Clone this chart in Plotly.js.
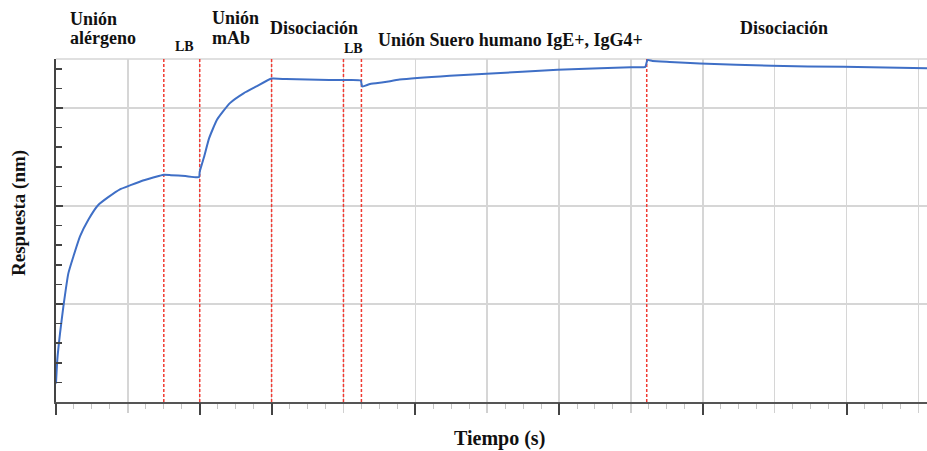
<!DOCTYPE html>
<html>
<head>
<meta charset="utf-8">
<script src="https://cdn.plot.ly/plotly-3.0.1.min.js"></script>
<style>html,body{margin:0;padding:0;background:#fff;}#chart{width:927px;height:451px;}</style>
</head>
<body>
<div id="chart"></div>
<script>
// Sensorgram (BLI) – response vs time (axis units: one gridline step = 1)
const time = [0, 0.018, 0.056, 0.102, 0.171, 0.24, 0.334, 0.45, 0.588, 0.727, 0.89, 1.03, 1.21, 1.45, 1.5,
  1.6, 1.8, 1.99,
  2.0, 2.06, 2.13, 2.24, 2.42, 2.61, 2.79, 3.0,
  3.2, 3.5, 3.8, 4.0, 4.24,
  4.26, 4.37, 4.58, 4.78, 5.48, 5.99, 6.98, 7.57, 8.0, 8.2,
  8.23, 8.3, 8.54, 8.96, 9.96, 10.96, 12.12];
const response = [0.19, 0.43, 0.70, 0.97, 1.31, 1.48, 1.69, 1.86, 2.01, 2.09, 2.17, 2.21, 2.26, 2.31, 2.32,
  2.315, 2.305, 2.295,
  2.35, 2.50, 2.69, 2.88, 3.05, 3.15, 3.22, 3.30,
  3.295, 3.29, 3.285, 3.285, 3.28,
  3.22, 3.245, 3.265, 3.29, 3.33, 3.35, 3.39, 3.405, 3.416, 3.42,
  3.49, 3.48, 3.47, 3.455, 3.43, 3.42, 3.405];

// Step boundaries (red dashed lines)
const stepTimes = [1.5, 2.0, 3.0, 4.0, 4.25, 8.22];
// Gridlines and ticks
const gridTimes = [0,1,2,3,4,5,6,7,8,9,10,11,12];
const majorTimeTicks = [0, 2, 3, 5, 7, 9, 11];
const gridResp = [0, 1, 2, 3];

const xRange = [0, 12.12];
const yRange = [0, 3.5];

// Phase labels: [text, left px, centre px, anchor]
const phaseLabels = [
  ["Unión", 68, 19, "left"],
  ["alérgeno", 68, 38, "left"],
  ["LB", 184, 47, "center"],
  ["Unión", 210, 18, "left"],
  ["mAb", 210, 38, "left"],
  ["Disociación", 268, 28, "left"],
  ["LB", 353.5, 48, "center"],
  ["Unión Suero humano IgE+, IgG4+", 376, 40, "left"],
  ["Disociación", 738, 28, "left"]
];

const W = 927, H = 451, L = 56, R = 0, T = 59, B = 49;
const pw = W - L - R, ph = H - T - B;
const px2x = p => (p - L) / pw;
const py2y = p => (H - B - p) / ph;

const serif = "Liberation Serif, Times New Roman, serif";

// red dashed step lines built from stepTimes
const lx = [], ly = [];
stepTimes.forEach(t => { lx.push(t, t, null); ly.push(yRange[0], yRange[1], null); });

const traces = [
  {x: lx, y: ly, xaxis: 'x', yaxis: 'y', mode: 'lines', hoverinfo: 'skip',
   line: {color: '#f03a32', width: 1.5, dash: '3px,2px'}, showlegend: false},
  {x: time, y: response, xaxis: 'x2', yaxis: 'y', mode: 'lines',
   line: {color: '#3f6fc6', width: 2, shape: 'spline', smoothing: 0.45}, showlegend: false}
];

const annotations = phaseLabels.map(([t, xp, yp, anc]) => ({
  text: t, xref: 'paper', yref: 'paper', x: px2x(xp), y: py2y(yp),
  xanchor: anc, yanchor: 'middle', showarrow: false,
  font: {family: serif, size: anc === 'center' ? 14 : 18, color: '#111', weight: 'bold'}
}));
annotations.push({text: 'Tiempo (s)', xref: 'paper', yref: 'paper', x: px2x(499), y: py2y(438),
  xanchor: 'center', yanchor: 'middle', showarrow: false,
  font: {family: serif, size: 20, color: '#111', weight: 'bold'}});
annotations.push({text: 'Respuesta (nm)', xref: 'paper', yref: 'paper', x: px2x(19), y: py2y(213),
  xanchor: 'center', yanchor: 'middle', showarrow: false, textangle: -90,
  font: {family: serif, size: 19, color: '#111', weight: 'bold'}});

const layout = {
  width: W, height: H,
  margin: {l: L, r: R, t: T, b: B, pad: 0},
  paper_bgcolor: '#fff', plot_bgcolor: '#fff',
  showlegend: false,
  xaxis: {
    range: xRange, tickmode: 'array', tickvals: gridTimes,
    ticks: 'outside', ticklen: 9, tickwidth: 1.5, tickcolor: '#d0d0d0',
    showticklabels: false, showgrid: true, gridcolor: '#d6d6d6', gridwidth: 1.5,
    showline: true, linecolor: '#555', linewidth: 2, zeroline: false,
    minor: {tickmode: 'linear', tick0: 0, dtick: 0.25, ticks: 'outside', ticklen: 5,
            tickcolor: '#c4c4c4', tickwidth: 1, showgrid: false}
  },
  xaxis2: {
    overlaying: 'x', anchor: 'y', side: 'bottom', range: xRange,
    tickmode: 'array', tickvals: majorTimeTicks, ticks: 'outside', ticklen: 12,
    tickwidth: 2, tickcolor: '#444', showticklabels: false, showgrid: false,
    showline: false, zeroline: false
  },
  yaxis: {
    range: yRange, tickmode: 'array', tickvals: gridResp,
    ticks: 'inside', ticklen: 7, tickwidth: 2, tickcolor: '#444',
    showticklabels: false, showgrid: true, gridcolor: '#d6d6d6', gridwidth: 1.5,
    showline: true, linecolor: '#444', linewidth: 2, zeroline: false,
    minor: {tickmode: 'linear', tick0: 0, dtick: 0.2, ticks: 'inside', ticklen: 6,
            tickcolor: '#444', tickwidth: 1.5, showgrid: false}
  },
  shapes: [{type: 'line', xref: 'paper', yref: 'paper', x0: 0, x1: 1, y0: 1, y1: 1,
            line: {color: '#d6d6d6', width: 1.5}, layer: 'below'}],
  annotations: annotations
};

Plotly.newPlot('chart', traces, layout, {staticPlot: true, displayModeBar: false});
</script>
</body>
</html>
